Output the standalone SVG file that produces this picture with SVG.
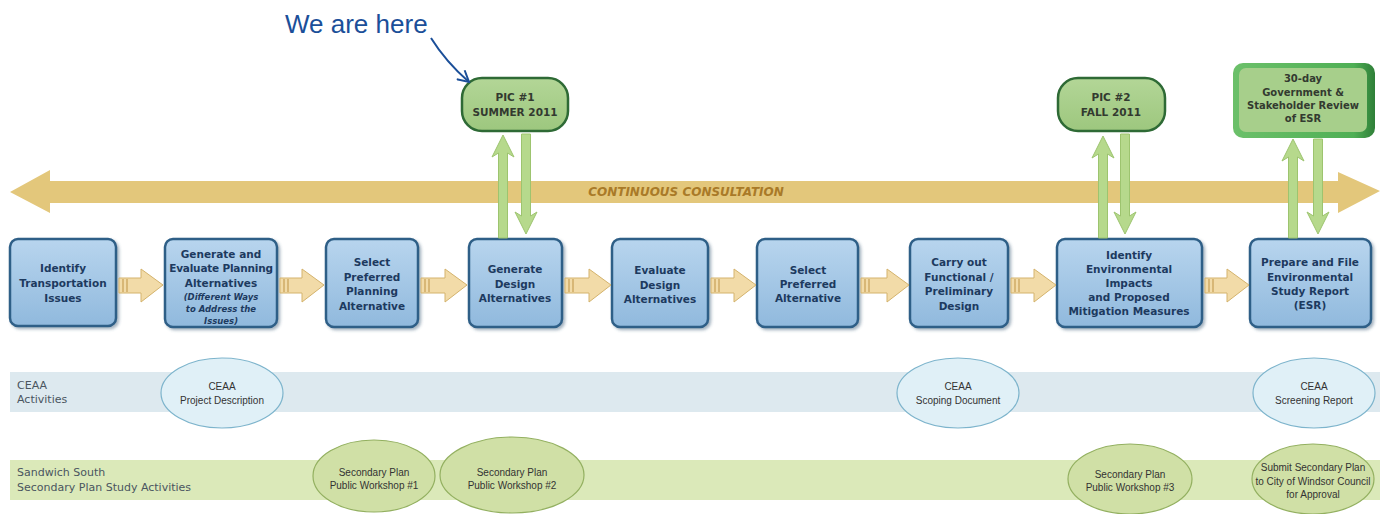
<svg xmlns="http://www.w3.org/2000/svg" width="1380" height="514" viewBox="0 0 1380 514">
<defs>
<linearGradient id="boxg" x1="0" y1="0" x2="0" y2="1">
<stop offset="0" stop-color="#b8d5ee"/>
<stop offset="1" stop-color="#90b9dd"/>
</linearGradient>
<linearGradient id="picg" x1="0" y1="0" x2="0" y2="1">
<stop offset="0" stop-color="#b3d697"/>
<stop offset="1" stop-color="#9dc77e"/>
</linearGradient>
<linearGradient id="revg" x1="0" y1="0" x2="1" y2="0">
<stop offset="0" stop-color="#6cc06a"/>
<stop offset="0.85" stop-color="#4faf55"/>
<stop offset="1" stop-color="#2f7f38"/>
</linearGradient>
<marker id="vhead" viewBox="0 0 14 14" refX="12" refY="7" markerWidth="14" markerHeight="14" markerUnits="userSpaceOnUse" orient="auto">
<polyline points="1,1 12,7 1,13" fill="none" stroke="#1b4f99" stroke-width="2"/>
</marker>
<filter id="sh" x="-10%" y="-10%" width="125%" height="125%">
<feDropShadow dx="2" dy="2" stdDeviation="1.5" flood-color="#3d5b76" flood-opacity="0.45"/>
</filter>
</defs>
<style>
.box{fill:url(#boxg);stroke:#2f5f87;stroke-width:2.5}
.bt{font-family:"DejaVu Sans",Verdana,sans-serif;font-weight:bold;font-size:10.5px;fill:#1d3a5f;text-anchor:middle}
.bi{font-family:"DejaVu Sans",Verdana,sans-serif;font-weight:bold;font-style:italic;font-size:8.5px;fill:#1d3a5f;text-anchor:middle}
.pic{fill:url(#picg);stroke:#2e6a35;stroke-width:2.5}
.pt{font-family:"DejaVu Sans",Verdana,sans-serif;font-weight:bold;font-size:10.5px;fill:#333a30;text-anchor:middle}
.rt{font-family:"DejaVu Sans",Verdana,sans-serif;font-weight:bold;font-size:10px;fill:#333a30;text-anchor:middle}
.ba{fill:#f2dba8;stroke:#d4b36c;stroke-width:1}
.bl{stroke:#c79f55;stroke-width:1.2}
.ga{fill:#b6d98c;stroke:#9dc46f;stroke-width:1}
.ov1{fill:#e0f0f7;stroke:#7db4cc;stroke-width:1.2}
.ov2{fill:#d0e0a6;stroke:#93b060;stroke-width:1.2}
.ot{font-family:"Liberation Sans",Arial,sans-serif;font-size:10px;fill:#333;text-anchor:middle}
.lt{font-family:"DejaVu Sans",Verdana,sans-serif;font-size:11px;fill:#4a5560}
</style>
<rect width="1380" height="514" fill="#ffffff"/>

<g id="bands">
<rect x="10" y="372" width="1370" height="40" fill="#dde9ef"/>
<rect x="10" y="460" width="1370" height="40" fill="#dbe9b9"/>
<text class="lt" x="17" y="389">CEAA</text>
<text class="lt" x="17" y="403">Activities</text>
<text class="lt" x="17" y="476">Sandwich South</text>
<text class="lt" x="17" y="491">Secondary Plan Study Activities</text>
</g>

<g id="consultation">
<polygon points="10,192 50,170 50,181 1338,181 1338,172 1380,191 1338,213 1338,203 50,203 50,213" fill="#e3c77b"/>
<text x="686" y="196" font-family="'DejaVu Sans',Verdana,sans-serif" font-weight="bold" font-style="italic" font-size="12px" fill="#a97a28" text-anchor="middle">CONTINUOUS  CONSULTATION</text>
</g>

<g id="here">
<text x="285" y="33" font-family="'Liberation Sans',Arial,sans-serif" font-size="26px" fill="#1b4f99">We are here</text>
</g>

<g id="pic1">
<rect class="pic" x="462" y="78" width="106" height="53" rx="20"/>
<text class="pt" x="515" y="101">PIC #1</text>
<text class="pt" x="515" y="116">SUMMER 2011</text>
</g>
<g id="pic2">
<rect class="pic" x="1058" y="78" width="107" height="53" rx="20"/>
<text class="pt" x="1111" y="101">PIC #2</text>
<text class="pt" x="1111" y="116">FALL 2011</text>
</g>
<g id="review">
<rect x="1233" y="63" width="142" height="75" rx="10" fill="url(#revg)"/>
<rect x="1239" y="68" width="128" height="64" rx="7" fill="#a7cf8b"/>
<text class="rt" x="1303" y="82">30-day</text>
<text class="rt" x="1303" y="96">Government &amp;</text>
<text class="rt" x="1303" y="109">Stakeholder Review</text>
<text class="rt" x="1303" y="122">of ESR</text>
</g>

<g id="b1"><rect class="box" filter="url(#sh)" x="10" y="239" width="106" height="87" rx="8"/>
<text class="bt" x="63" y="272">Identify</text><text class="bt" x="63" y="287">Transportation</text><text class="bt" x="63" y="302">Issues</text></g>
<g id="b2"><rect class="box" filter="url(#sh)" x="165" y="239" width="112" height="88" rx="8"/>
<text class="bt" x="221" y="258">Generate and</text><text class="bt" x="221" y="272" letter-spacing="-0.2">Evaluate Planning</text><text class="bt" x="221" y="287">Alternatives</text>
<text class="bi" x="221" y="300">(Different Ways</text><text class="bi" x="221" y="312">to Address the</text><text class="bi" x="221" y="324">Issues)</text></g>
<g id="b3"><rect class="box" filter="url(#sh)" x="326" y="239" width="92" height="88" rx="8"/>
<text class="bt" x="372" y="266">Select</text><text class="bt" x="372" y="281">Preferred</text><text class="bt" x="372" y="295">Planning</text><text class="bt" x="372" y="310">Alternative</text></g>
<g id="b4"><rect class="box" filter="url(#sh)" x="469" y="239" width="93" height="88" rx="8"/>
<text class="bt" x="515" y="273">Generate</text><text class="bt" x="515" y="288">Design</text><text class="bt" x="515" y="302">Alternatives</text></g>
<g id="b5"><rect class="box" filter="url(#sh)" x="612" y="239" width="96" height="88" rx="8"/>
<text class="bt" x="660" y="274">Evaluate</text><text class="bt" x="660" y="289">Design</text><text class="bt" x="660" y="303">Alternatives</text></g>
<g id="b6"><rect class="box" filter="url(#sh)" x="757" y="239" width="101" height="88" rx="8"/>
<text class="bt" x="808" y="274">Select</text><text class="bt" x="808" y="288">Preferred</text><text class="bt" x="808" y="302">Alternative</text></g>
<g id="b7"><rect class="box" filter="url(#sh)" x="910" y="239" width="98" height="88" rx="8"/>
<text class="bt" x="959" y="266">Carry out</text><text class="bt" x="959" y="281">Functional /</text><text class="bt" x="959" y="295">Preliminary</text><text class="bt" x="959" y="310">Design</text></g>
<g id="b8"><rect class="box" filter="url(#sh)" x="1057" y="239" width="145" height="88" rx="8"/>
<text class="bt" x="1129" y="259">Identify</text><text class="bt" x="1129" y="273">Environmental</text><text class="bt" x="1129" y="287">Impacts</text><text class="bt" x="1129" y="301">and Proposed</text><text class="bt" x="1129" y="315">Mitigation Measures</text></g>
<g id="b9"><rect class="box" filter="url(#sh)" x="1250" y="239" width="121" height="88" rx="8"/>
<text class="bt" x="1310" y="266">Prepare and File</text><text class="bt" x="1310" y="281">Environmental</text><text class="bt" x="1310" y="295">Study Report</text><text class="bt" x="1310" y="309">(ESR)</text></g>

<g id="o1"><ellipse class="ov1" cx="222" cy="393" rx="61" ry="35"/>
<text class="ot" x="222" y="390">CEAA</text><text class="ot" x="222" y="404">Project Description</text></g>
<g id="o2"><ellipse class="ov1" cx="958" cy="393" rx="61" ry="35"/>
<text class="ot" x="958" y="390">CEAA</text><text class="ot" x="958" y="404">Scoping Document</text></g>
<g id="o3"><ellipse class="ov1" cx="1314" cy="393" rx="61" ry="35"/>
<text class="ot" x="1314" y="390">CEAA</text><text class="ot" x="1314" y="404">Screening Report</text></g>
<g id="o4"><ellipse class="ov2" cx="374" cy="476" rx="61" ry="36"/>
<text class="ot" x="374" y="476">Secondary Plan</text><text class="ot" x="374" y="489">Public Workshop #1</text></g>
<g id="o5"><ellipse class="ov2" cx="512" cy="475" rx="72" ry="38"/>
<text class="ot" x="512" y="476">Secondary Plan</text><text class="ot" x="512" y="489">Public Workshop #2</text></g>
<g id="o6"><ellipse class="ov2" cx="1130" cy="479" rx="62" ry="35"/>
<text class="ot" x="1130" y="478">Secondary Plan</text><text class="ot" x="1130" y="491">Public Workshop #3</text></g>
<g id="o7"><ellipse class="ov2" cx="1313" cy="479" rx="61" ry="35"/>
<text class="ot" x="1313" y="471">Submit Secondary Plan</text><text class="ot" x="1313" y="485">to City of Windsor Council</text><text class="ot" x="1313" y="498">for Approval</text></g>

<g id="connectors">
<path d="M431,38 Q446,62 469,82" fill="none" stroke="#1b4f99" stroke-width="2" marker-end="url(#vhead)"/>
<polygon class="ba" points="119,278 141,278 141,269 163,285 141,302 141,293 119,293"/>
<line class="bl" x1="123" y1="279" x2="123" y2="292"/><line class="bl" x1="127" y1="279" x2="127" y2="292"/>
<polygon class="ba" points="280,278 302,278 302,269 324,285 302,302 302,293 280,293"/>
<line class="bl" x1="284" y1="279" x2="284" y2="292"/><line class="bl" x1="288" y1="279" x2="288" y2="292"/>
<polygon class="ba" points="421,278 445,278 445,269 467,285 445,302 445,293 421,293"/>
<line class="bl" x1="425" y1="279" x2="425" y2="292"/><line class="bl" x1="429" y1="279" x2="429" y2="292"/>
<polygon class="ba" points="565,278 589,278 589,269 611,285 589,302 589,293 565,293"/>
<line class="bl" x1="569" y1="279" x2="569" y2="292"/><line class="bl" x1="573" y1="279" x2="573" y2="292"/>
<polygon class="ba" points="711,278 734,278 734,269 756,285 734,302 734,293 711,293"/>
<line class="bl" x1="715" y1="279" x2="715" y2="292"/><line class="bl" x1="719" y1="279" x2="719" y2="292"/>
<polygon class="ba" points="861,278 887,278 887,269 909,285 887,302 887,293 861,293"/>
<line class="bl" x1="865" y1="279" x2="865" y2="292"/><line class="bl" x1="869" y1="279" x2="869" y2="292"/>
<polygon class="ba" points="1011,278 1034,278 1034,269 1056,285 1034,302 1034,293 1011,293"/>
<line class="bl" x1="1015" y1="279" x2="1015" y2="292"/><line class="bl" x1="1019" y1="279" x2="1019" y2="292"/>
<polygon class="ba" points="1205,278 1227,278 1227,269 1249,285 1227,302 1227,293 1205,293"/>
<line class="bl" x1="1209" y1="279" x2="1209" y2="292"/><line class="bl" x1="1213" y1="279" x2="1213" y2="292"/>

<polygon class="ga" points="503,135 514,157 507.5,153 507.5,238 498.5,238 498.5,153 492,157"/>
<polygon class="ga" points="526,234 537,212 530.5,216 530.5,134 521.5,134 521.5,216 515,212"/>
<polygon class="ga" points="1103,136 1114,158 1107.5,154 1107.5,238 1098.5,238 1098.5,154 1092,158"/>
<polygon class="ga" points="1125,234 1136,212 1129.5,216 1129.5,134 1120.5,134 1120.5,216 1114,212"/>
<polygon class="ga" points="1293,139 1304,161 1297.5,157 1297.5,238 1288.5,238 1288.5,157 1282,161"/>
<polygon class="ga" points="1318,234 1329,212 1322.5,216 1322.5,139 1313.5,139 1313.5,216 1307,212"/>
</g>
</svg>
